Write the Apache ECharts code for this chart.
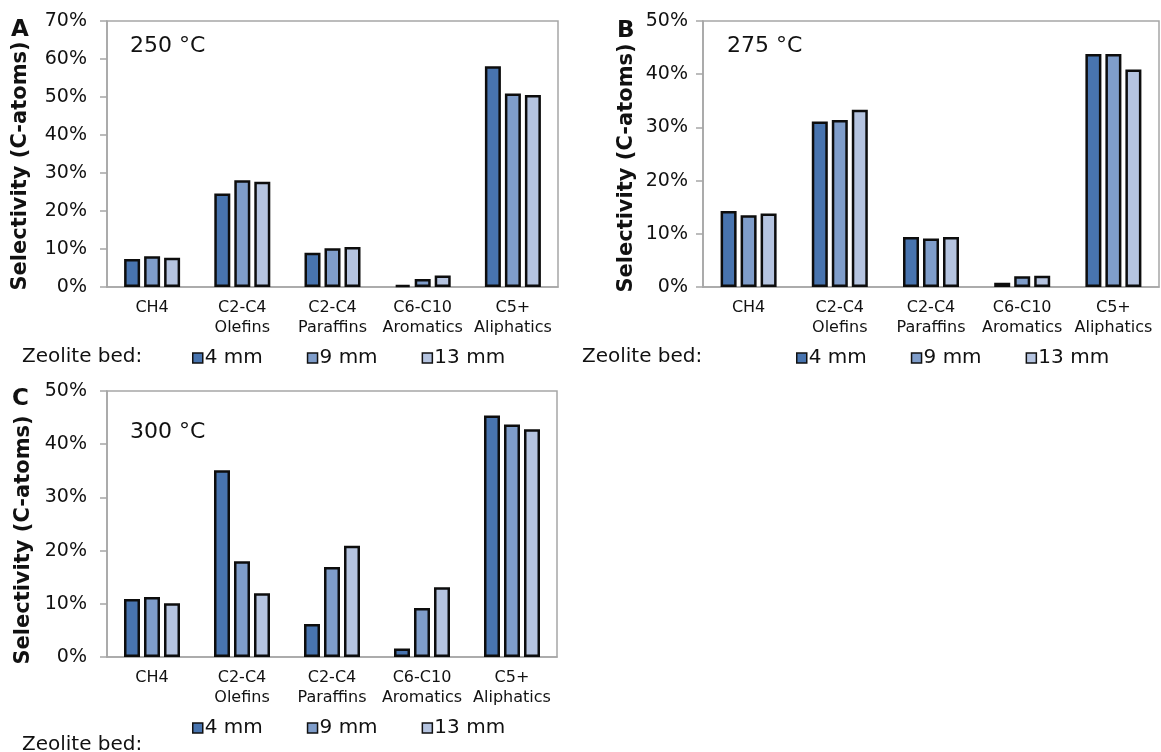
<!DOCTYPE html>
<html>
<head>
<meta charset="utf-8">
<script src="https://cdn.jsdelivr.net/npm/echarts@6/dist/echarts.min.js"></script>
<style>
html,body{margin:0;padding:0;background:#fff;}
#chart{width:1161px;height:752px;}
</style>
</head>
<body>
<div id="chart"></div>
<script>
// ---- data ----
var categories = ['CH4', 'C2-C4\nOlefins', 'C2-C4\nParaffins', 'C6-C10\nAromatics', 'C5+\nAliphatics'];
var bedSizes = ['4 mm', '9 mm', '13 mm'];
var panelLetters = ['A', 'B', 'C'];
var temperatures = ['250 °C', '275 °C', '300 °C'];
var yMax = [70, 50, 50];
var yTickStep = 10;

// Panel A, 250 °C (selectivity, % C-atoms)
var a_4mm  = [7.4, 24.6, 9.0, 0.5, 58.1];
var a_9mm  = [8.1, 28.1, 10.2, 2.1, 50.9];
var a_13mm = [7.7, 27.7, 10.5, 3.0, 50.5];
// Panel B, 275 °C
var b_4mm  = [14.3, 31.1, 9.4, 0.8, 43.8];
var b_9mm  = [13.5, 31.4, 9.1, 2.0, 43.8];
var b_13mm = [13.8, 33.3, 9.4, 2.1, 40.9];
// Panel C, 300 °C
var c_4mm  = [10.9, 35.1, 6.2, 1.6, 45.4];
var c_9mm  = [11.3, 18.0, 16.9, 9.2, 43.7];
var c_13mm = [10.1, 12.0, 20.9, 13.1, 42.8];

var panelData = [[a_4mm, a_9mm, a_13mm], [b_4mm, b_9mm, b_13mm], [c_4mm, c_9mm, c_13mm]];

// ---- styling / layout ----
var colors = ['#4874AF', '#7F9DCA', '#B5C4E0'];
var gridPos = [
  {left: 107, top: 21, width: 451, height: 266},
  {left: 703, top: 21, width: 456, height: 266},
  {left: 107, top: 391, width: 450, height: 266}
];
var labelMargin = [20, 15, 20];
var FONT = 'DejaVu Sans';
var axisGrey = '#a6a6a6';

var grids = [], xAxes = [], yAxes = [], series = [];
for (var p = 0; p < 3; p++) {
  grids.push(Object.assign({show: true, borderColor: axisGrey, borderWidth: 1.5, containLabel: false}, gridPos[p]));
  xAxes.push({
    type: 'category', gridIndex: p, data: categories,
    axisLine: {lineStyle: {color: axisGrey, width: 1.5}},
    axisTick: {show: false},
    axisLabel: {interval: 0, fontFamily: FONT, fontSize: 16, lineHeight: 20, color: '#111', margin: 11}
  });
  yAxes.push({
    type: 'value', gridIndex: p, min: 0, max: yMax[p], interval: yTickStep,
    axisLine: {show: true, lineStyle: {color: axisGrey, width: 1.5}},
    axisTick: {show: true, length: 7, lineStyle: {color: axisGrey, width: 1.5}},
    splitLine: {show: false},
    axisLabel: {formatter: '{value}%', fontFamily: FONT, fontSize: 19, color: '#111', margin: labelMargin[p]}
  });
  for (var b = 0; b < 3; b++) {
    series.push({
      type: 'bar', name: bedSizes[b], xAxisIndex: p, yAxisIndex: p,
      data: panelData[p][b], barWidth: 16, barGap: '25%',
      itemStyle: {color: colors[b], borderColor: '#0d0d0d', borderWidth: 2.5},
      emphasis: {disabled: true}, animation: false
    });
  }
}

function legendAt(left, top) {
  return {
    left: left, top: top, data: bedSizes, icon: 'rect', itemWidth: 10, itemHeight: 10, itemGap: 44,
    itemStyle: {borderColor: '#111', borderWidth: 1.5},
    textStyle: {fontFamily: FONT, fontSize: 20, color: '#111', padding: [0, 0, 0, -3]},
    selectedMode: false
  };
}

function txt(x, y, s, size, weight, rot, align) {
  return {
    type: 'text', x: x, y: y, rotation: rot || 0,
    style: {text: s, fontFamily: FONT, fontSize: size, fontWeight: weight || 'normal', fill: '#111',
            align: align || 'left', verticalAlign: 'middle'}
  };
}

var graphics = [
  txt(11, 30, panelLetters[0], 23, 'bold'),
  txt(617, 31, panelLetters[1], 23, 'bold'),
  txt(12, 399, panelLetters[2], 23, 'bold'),
  txt(130, 46, temperatures[0], 22),
  txt(727, 46, temperatures[1], 22),
  txt(130, 432, temperatures[2], 22),
  txt(21, 166, 'Selectivity (C-atoms)', 21, 'bold', Math.PI / 2, 'center'),
  txt(627, 168, 'Selectivity (C-atoms)', 21, 'bold', Math.PI / 2, 'center'),
  txt(24, 540, 'Selectivity (C-atoms)', 21, 'bold', Math.PI / 2, 'center'),
  txt(22, 357, 'Zeolite bed:', 20),
  txt(582, 357, 'Zeolite bed:', 20),
  txt(22, 745, 'Zeolite bed:', 20)
];

var chart = echarts.init(document.getElementById('chart'), null, {renderer: 'canvas'});
chart.setOption({
  animation: false,
  backgroundColor: '#fff',
  grid: grids, xAxis: xAxes, yAxis: yAxes, series: series,
  legend: [legendAt(187, 343), legendAt(791, 343), legendAt(187, 713)],
  graphic: graphics
});
</script>
</body>
</html>
